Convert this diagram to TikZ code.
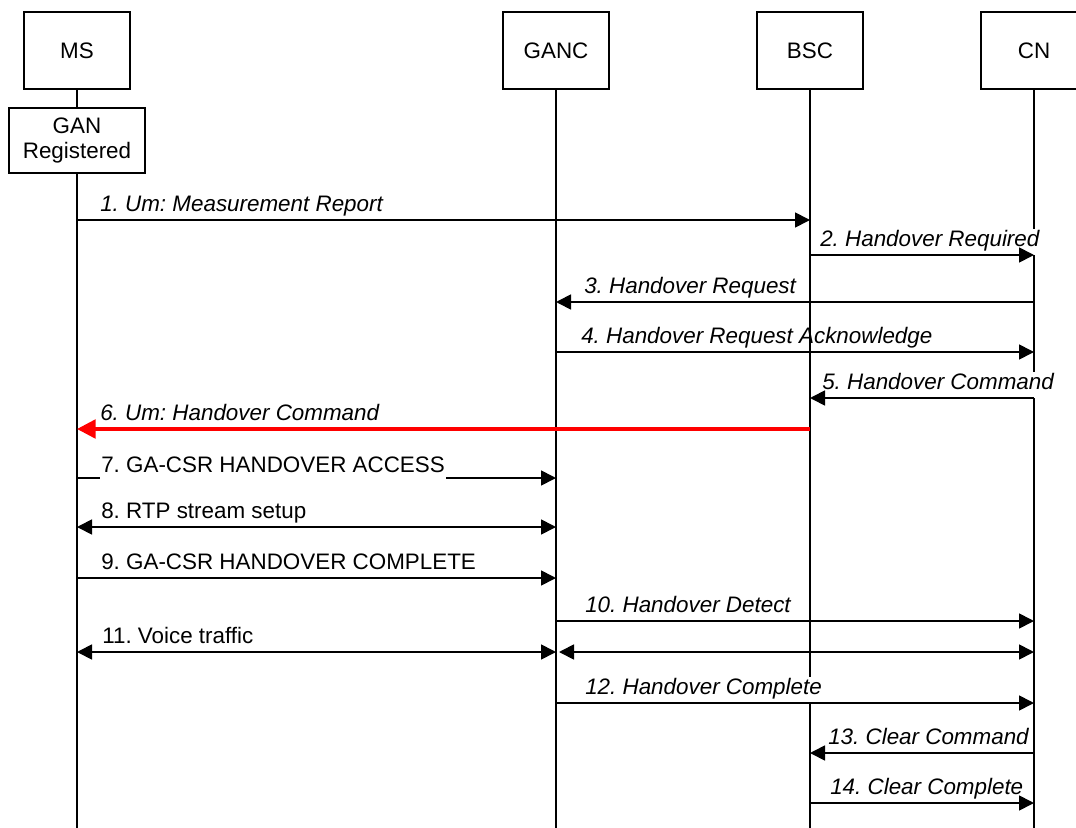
\documentclass[tikz,border=0pt]{standalone}
\usepackage{fontspec}
\setmainfont{Liberation Sans}
\usetikzlibrary{arrows.meta}
\frenchspacing
\begin{document}
\begin{tikzpicture}[x=0.75pt,y=-0.75pt,
  every node/.style={font=\fontsize{16.8}{19}\selectfont},
  actor/.style={draw, line width=1pt, inner sep=0pt, minimum width=79.5pt, minimum height=57.75pt},
  statebox/.style={draw, line width=1pt, inner sep=0pt, minimum width=102pt, minimum height=48.75pt, align=center},
  life/.style={line width=1.6pt},
  tipA/.tip={Triangle[length=11.25pt,width=11.25pt]},
  msg/.style={line width=1.3pt, -tipA},
  dmsg/.style={line width=1.3pt, tipA-tipA},
  redmsg/.style={draw=red, line width=2.6pt, -{Triangle[length=14pt,width=14pt]}, fill=red},
  lbl/.style={anchor=south west, inner xsep=0.75pt, inner ysep=1.5pt, text height=12pt, text depth=4.5pt, fill=white},
  ilbl/.style={lbl, font=\fontsize{16.8}{19}\selectfont\itshape}
]
\path[use as bounding box] (0,0) rectangle (1076,828);
\clip (0,0) rectangle (1076,828);
\fill[white] (0,0) rectangle (1076,828);

% participants
\node[actor] (ms) at (77,50.5) {MS};
\node[actor] (ganc) at (556,50.5) {GANC};
\node[actor] (bsc) at (810,50.5) {BSC};
\node[actor] (cn) at (1034,50.5) {CN};
\node[statebox] (gan) at (77,140.5) {GAN\\Registered};

\coordinate (bot) at (0,830);
% lifelines
\draw[life] (ms) -- (gan);
\draw[life] (gan) -- (gan |- bot);
\draw[life] (ganc) -- (ganc |- bot);
\draw[life] (bsc) -- (bsc |- bot);
\draw[life] (cn) -- (cn |- bot);

% rows
\coordinate (r1) at (0,220);
\coordinate (r2) at (0,255);
\coordinate (r3) at (0,302);
\coordinate (r4) at (0,352);
\coordinate (r5) at (0,398);
\coordinate (r6) at (0,429);
\coordinate (r7) at (0,478);
\coordinate (r8) at (0,527);
\coordinate (r9) at (0,578);
\coordinate (r10) at (0,621);
\coordinate (r11) at (0,652);
\coordinate (r12) at (0,703);
\coordinate (r13) at (0,753);
\coordinate (r14) at (0,803);

% labels
\node[ilbl] (l1) at (99,220) {1. Um: Measurement Report};
\node[ilbl] (l2) at (819,255) {2. Handover Required};
\node[ilbl] (l3) at (583,302) {3. Handover Request};
\node[ilbl, fill=none] (l4) at (580,352) {4. Handover Request Acknowledge};
\node[ilbl] (l5) at (821,398) {5. Handover Command};
\node[ilbl] (l6) at (99,429) {6. Um: Handover Command};
\node[lbl] (l8) at (100,527) {8. RTP stream setup};
\node[lbl] (l9) at (100,578) {9. GA-CSR HANDOVER COMPLETE};
\node[ilbl] (l10) at (584,621) {10. Handover Detect};
\node[lbl] (l11) at (101,652) {11. Voice traffic};
\node[ilbl] (l12) at (584,703) {12. Handover Complete};
\node[ilbl] (l13) at (827,753) {13. Clear Command};
\node[ilbl] (l14) at (829,803) {14. Clear Complete};

% messages
\draw[msg] (ms |- r1) -- (bsc |- r1);
\draw[msg] (bsc |- r2) -- (cn |- r2);
\draw[msg] (cn |- r3) -- (ganc |- r3);
\draw[msg] (ganc |- r4) -- (cn |- r4);
\draw[msg] (cn |- r5) -- (bsc |- r5);
\draw[redmsg] (bsc |- r6) -- (ms |- r6);
\draw[msg] (ms |- r7) -- (ganc |- r7);
\draw[dmsg] (ms |- r8) -- (ganc |- r8);
\draw[msg] (ms |- r9) -- (ganc |- r9);
\draw[msg] (ganc |- r10) -- (cn |- r10);
\draw[dmsg] (ms |- r11) -- (ganc |- r11);
\draw[dmsg] ([xshift=2.25pt]ganc |- r11) -- (cn |- r11);
\draw[msg] (ganc |- r12) -- (cn |- r12);
\draw[msg] (cn |- r13) -- (bsc |- r13);
\draw[msg] (bsc |- r14) -- (cn |- r14);

\node[lbl, anchor=south west] (l7) at (100,481) {7. GA-CSR HANDOVER ACCESS};
\end{tikzpicture}
\end{document}
